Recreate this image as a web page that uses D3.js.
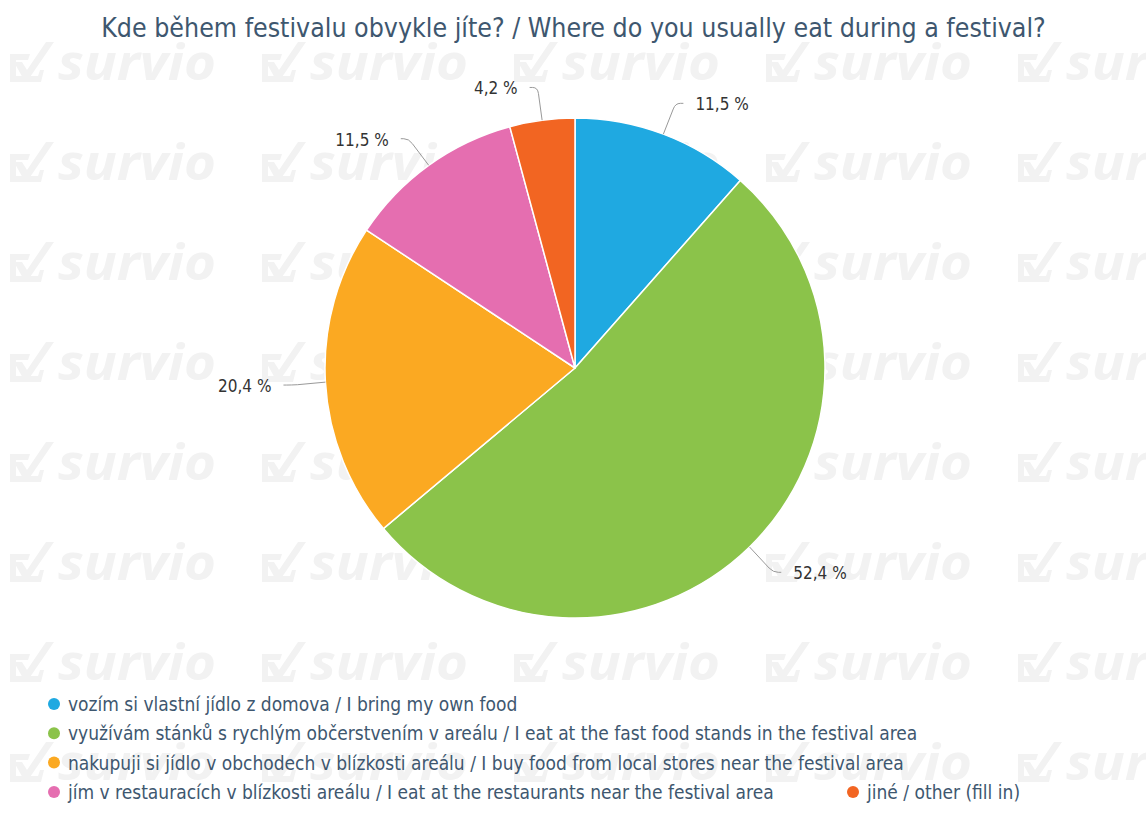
<!DOCTYPE html>
<html>
<head>
<meta charset="utf-8">
<script src="https://cdn.jsdelivr.net/npm/d3@7"></script>
<style>
  body { margin: 0; background: #fff; }
  svg { display: block; font-family: 'DejaVu Sans Condensed', 'DejaVu Sans', sans-serif; }
</style>
</head>
<body>
<div id="chart"></div>
<script>
const width = 1146;
const height = 836;

const title = 'Kde během festivalu obvykle jíte? / Where do you usually eat during a festival?';
const categories = [
  'vozím si vlastní jídlo z domova / I bring my own food',
  'využívám stánků s rychlým občerstvením v areálu / I eat at the fast food stands in the festival area',
  'nakupuji si jídlo v obchodech v blízkosti areálu / I buy food from local stores near the festival area',
  'jím v restauracích v blízkosti areálu / I eat at the restaurants near the festival area',
  'jiné / other (fill in)'
];
const values = [11.5, 52.4, 20.4, 11.5, 4.2];
const colors = ['#1fa9e1', '#8bc34a', '#fba922', '#e56eb0', '#f26522'];

const cx = 575;
const cy = 368;
const radius = 250;

const svg = d3.select('#chart')
  .append('svg')
  .attr('width', width)
  .attr('height', height);

// watermark, one tile repeated through a pattern
const pattern = svg.append('defs')
  .append('pattern')
  .attr('id', 'wm')
  .attr('patternUnits', 'userSpaceOnUse')
  .attr('x', 8)
  .attr('y', 40)
  .attr('width', 252)
  .attr('height', 100);
const tile = pattern.append('g').attr('fill', '#f2f2f2');
tile.append('path')
  .attr('d', 'M2,14 L22,14 L20,20 L8,20 L8,36 L30,36 L32,30 L36,30 L33,42 L2,42 Z');
tile.append('path')
  .attr('d', 'M6,22 L14,22 L19,30 L38,2 L46,2 L20,40 L16,40 Z');
tile.append('text')
  .attr('x', 50)
  .attr('y', 40)
  .attr('font-size', 50)
  .attr('font-weight', 'bold')
  .attr('font-style', 'italic')
  .attr('font-family', "'Open Sans', sans-serif")
  .attr('textLength', 158)
  .attr('lengthAdjust', 'spacingAndGlyphs')
  .text('survio');
svg.append('rect')
  .attr('width', width)
  .attr('height', height)
  .attr('fill', 'url(#wm)');

svg.append('text')
  .attr('x', width / 2 + 0.5)
  .attr('y', 37)
  .attr('text-anchor', 'middle')
  .attr('fill', '#3e576f')
  .attr('font-size', 26.5)
  .text(title);

const data = values.map((v, i) => ({ value: v, name: categories[i], color: colors[i] }));

const pie = d3.pie().sort(null).value((d) => d.value);
const arcs = pie(data);
const arc = d3.arc().innerRadius(0).outerRadius(radius);

const pieG = svg.append('g').attr('transform', `translate(${cx}, ${cy})`);

pieG.selectAll('path.slice')
  .data(arcs)
  .enter()
  .append('path')
  .attr('class', 'slice')
  .attr('d', arc)
  .attr('fill', (d) => d.data.color)
  .attr('stroke', '#fff')
  .attr('stroke-width', 1.5)
  .attr('stroke-linejoin', 'round');

const fmt = (v) => `${d3.format('.1f')(v).replace('.', ',')} %`;

arcs.forEach((d) => {
  const a = (d.startAngle + d.endAngle) / 2;
  const sx = Math.sin(a);
  const sy = -Math.cos(a);
  const right = sx >= 0;
  const dir = right ? 1 : -1;
  const p0 = [radius * sx, radius * sy];
  const p1 = [(radius + 34) * sx, (radius + 34) * sy + 1];
  const p2 = [p1[0] + dir * 8, p1[1]];
  pieG.append('path')
    .attr('d', `M${p0[0]},${p0[1]} L${p1[0] - 6 * sx},${p1[1] - 6 * sy} Q${p1[0]},${p1[1]} ${p1[0] + dir * 5},${p1[1]} L${p2[0]},${p2[1]}`)
    .attr('fill', 'none')
    .attr('stroke', '#999')
    .attr('stroke-width', 1);
  pieG.append('text')
    .attr('x', p2[0] + dir * 12)
    .attr('y', p1[1] + 7)
    .attr('text-anchor', right ? 'start' : 'end')
    .attr('font-size', 17)
    .attr('fill', '#333')
    .text(fmt(d.data.value));
});

// legend: rows of items
const legendRows = [[0], [1], [2], [3, 4]];
const legendColX = [54, 853];
const legendTop = 704;
const legendStep = 29.3;

const legend = svg.append('g');
legendRows.forEach((row, r) => {
  row.forEach((idx, c) => {
    const g = legend.append('g')
      .attr('transform', `translate(${legendColX[c]}, ${legendTop + r * legendStep})`);
    g.append('circle')
      .attr('r', 6)
      .attr('fill', colors[idx]);
    g.append('text')
      .attr('x', 14)
      .attr('y', 7)
      .attr('font-size', 19)
      .attr('fill', '#3e576f')
      .text(categories[idx]);
  });
});
</script>
</body>
</html>
